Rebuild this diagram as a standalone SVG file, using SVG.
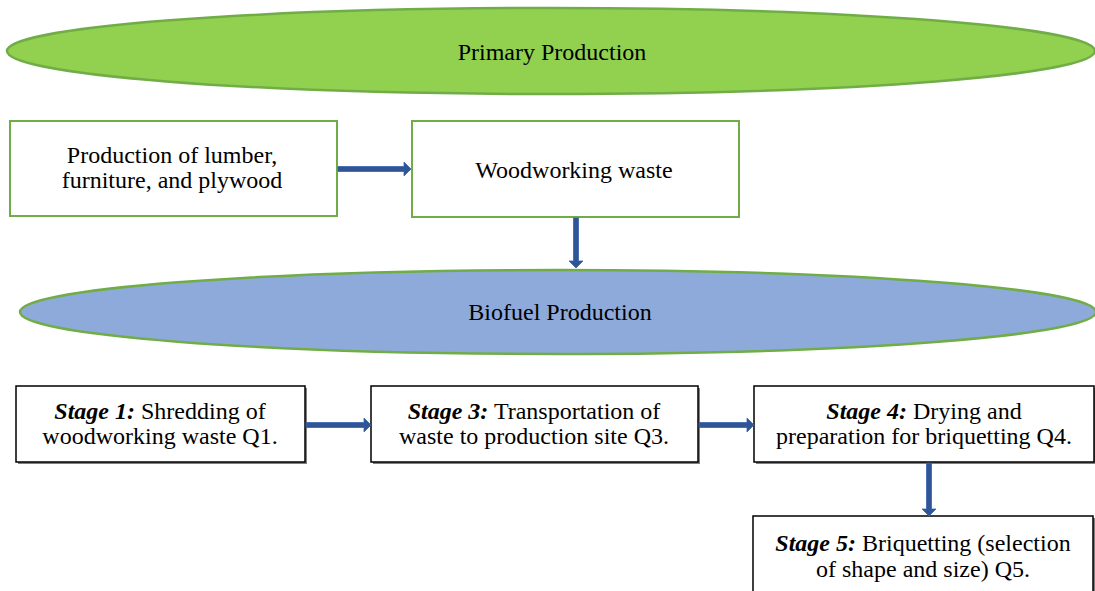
<svg xmlns="http://www.w3.org/2000/svg" width="1095" height="591" viewBox="0 0 1095 591">
<style>
text{font-family:"Liberation Serif","Times New Roman",serif;font-size:24px;fill:#000;text-anchor:middle}
.b{font-weight:bold;font-style:italic}
.g{fill:#fff;stroke:#70ad47;stroke-width:2}
.s{fill:#fff;stroke:#000;stroke-width:1.5}
.sh{fill:#7f7f7f}
.arr{fill:#2f5597;stroke:#3a63a8;stroke-width:0.8}
</style>
<g id="primary">
<ellipse cx="551" cy="51" rx="544" ry="43" fill="#92d050" stroke="#70ad47" stroke-width="2.5"/>
<text x="552" y="60">Primary Production</text>
</g>
<g id="lumber">
<rect class="g" x="10" y="121" width="327" height="95"/>
<text x="172" y="163">Production of lumber,</text>
<text x="172" y="188">furniture, and plywood</text>
</g>
<g id="waste">
<rect class="g" x="412" y="121" width="327" height="96"/>
<text x="574" y="178">Woodworking waste</text>
</g>
<g id="biofuel">
<ellipse cx="558" cy="312" rx="538" ry="42" fill="#8eaadb" stroke="#70ad47" stroke-width="2.5"/>
<text x="560" y="320">Biofuel Production</text>
</g>
<g id="stage1">
<rect class="sh" x="18" y="388" width="289" height="76"/>
<rect class="s" x="16" y="386" width="289" height="76"/>
<text x="160" y="419"><tspan class="b">Stage 1:</tspan> Shredding of</text>
<text x="160" y="444">woodworking waste Q1.</text>
</g>
<g id="stage3">
<rect class="sh" x="373" y="388" width="327" height="76"/>
<rect class="s" x="371" y="386" width="327" height="76"/>
<text x="534" y="419"><tspan class="b">Stage 3:</tspan> Transportation of</text>
<text x="534" y="444">waste to production site Q3.</text>
</g>
<g id="stage4">
<rect class="sh" x="756" y="388" width="340" height="76"/>
<rect class="s" x="754" y="386" width="340" height="76"/>
<text x="924" y="419"><tspan class="b">Stage 4:</tspan> Drying and</text>
<text x="924" y="444">preparation for briquetting Q4.</text>
</g>
<g id="stage5">
<rect class="sh" x="755" y="518" width="340" height="80"/>
<rect class="s" x="753" y="516" width="340" height="80"/>
<text x="923" y="551"><tspan class="b">Stage 5:</tspan> Briquetting (selection</text>
<text x="923" y="577">of shape and size) Q5.</text>
</g>
<g id="connectors">
<path class="arr" d="M338 166.5 H404 V162 L411 169 L404 176 V171.5 H338 Z"/>
<path class="arr" d="M573.5 218 V261 H569 L576 268 L583 261 H578.5 V218 Z"/>
<path class="arr" d="M306 422.5 H364 V418 L371 425 L364 432 V427.5 H306 Z"/>
<path class="arr" d="M699 422.5 H747 V418 L754 425 L747 432 V427.5 H699 Z"/>
<path class="arr" d="M926.5 463 V509 H922 L929 516 L936 509 H931.5 V463 Z"/>
</g>
</svg>
